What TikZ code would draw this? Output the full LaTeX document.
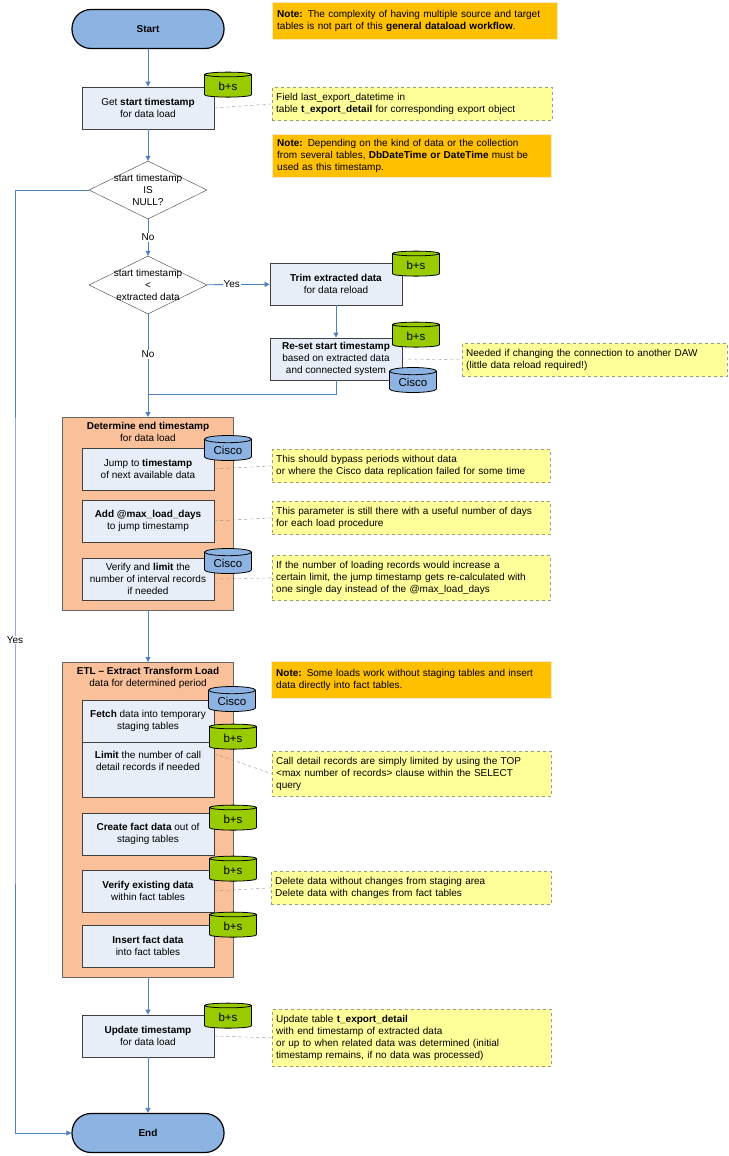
\documentclass[tikz,border=0pt]{standalone}
\usepackage{fontspec}
\setmainfont{Liberation Sans}
\usetikzlibrary{shapes.geometric,arrows.meta,positioning}
\definecolor{boxfill}{HTML}{E8EEF8}
\definecolor{termfill}{HTML}{8DB3E2}
\definecolor{grpfill}{HTML}{F9C09A}
\definecolor{notey}{HTML}{FFFF99}
\definecolor{noteo}{HTML}{FFC000}
\definecolor{bsgreen}{HTML}{99CC00}
\definecolor{ciscoblue}{HTML}{8DB3E2}
\definecolor{flow}{HTML}{4F81BD}
\tikzset{
  every node/.style={font=\fontsize{10}{12}\selectfont, align=center},
  procbox/.style={draw=black!75, thick, fill=boxfill, minimum width=132pt, minimum height=42pt, inner sep=1pt},
  term/.style={draw=black, very thick, fill=termfill, rounded corners=19pt, minimum width=152pt, minimum height=39pt, font=\fontsize{10}{12}\selectfont\bfseries},
  decide/.style={draw=black!75, fill=white, diamond, aspect=2.03, minimum width=118pt, minimum height=58pt, inner sep=0pt, label={center:#1}},
  group/.style={draw=black!60, fill=grpfill},
  note/.style={draw=black!40, dashed, fill=notey, align=left, anchor=north west, inner xsep=4pt, inner ysep=6pt, minimum width=#1, text width={#1-8pt}},
  onote/.style={draw=noteo!80!black!20, fill=noteo, align=left, anchor=north west, inner xsep=5pt, inner ysep=8pt, minimum width=#1, text width={#1-10pt}},
  db/.style={cylinder, shape border rotate=90, aspect=0.25, draw=black, thick, minimum width=47pt, minimum height=25pt, inner sep=0pt, font=\fontsize{11.5}{12}\selectfont},
  bs/.style={db, fill=bsgreen},
  cisco/.style={db, fill=ciscoblue},
  arr/.style={draw=flow, thick, -{Triangle[width=5pt,length=5pt]}},
  link/.style={draw=black!45, dashed, thin}
}
\begin{document}
\begin{tikzpicture}[x=1pt,y=-1pt]
\useasboundingbox (0,0) rectangle (728,1156);

% groups
\draw[group] (62,417) rectangle (233,610);
\draw[group] (62,662) rectangle (233,977);

% flow nodes
\node[term] (start) at (148,29) {Start};
\node[procbox] (getstart) at (148,108) {Get \textbf{start timestamp}\\for data load};
\node[decide={start timestamp\\IS\\NULL?}] (isnull) at (148,190) {};
\node[decide={start timestamp\\<\\extracted data}] (less) at (148,285) {};
\node[procbox] (trim) at (336,284) {\textbf{Trim extracted data}\\for data reload};
\node[procbox] (reset) at (336,359) {\textbf{Re-set start timestamp}\\based on extracted data\\and connected system};
\node at (148,432) {\textbf{Determine end timestamp}\\for data load};
\node[procbox] (jump) at (148,469) {Jump to \textbf{timestamp}\\of next available data};
\node[procbox] (addmax) at (148,521) {\textbf{Add @max\_load\_days}\\to jump timestamp};
\node[procbox] (verlim) at (148,579) {Verify and \textbf{limit} the\\number of interval records\\if needed};
\node at (148,678) {\textbf{ETL -- Extract Transform Load}\\data for determined period};
\node[procbox] (fetch) at (148,721) {\textbf{Fetch} data into temporary\\staging tables};
\node[procbox, minimum height=55pt, text depth=18pt] (limit) at (148,769.5) {\textbf{Limit} the number of call\\detail records if needed};
\node[procbox] (create) at (148,834) {\textbf{Create fact data} out of\\staging tables};
\node[procbox] (verex) at (148,891) {\textbf{Verify existing data}\\within fact tables};
\node[procbox] (insert) at (148,946) {\textbf{Insert fact data}\\into fact tables};
\node[procbox] (update) at (148,1036) {\textbf{Update timestamp}\\for data load};
\node[term] (end) at (148,1133) {End};

% databases
\node[bs] (db1) at (228,86) {b+s};
\node[bs] (db2) at (416,265) {b+s};
\node[bs] (db3) at (416,336) {b+s};
\node[cisco] (db4) at (413,382) {Cisco};
\node[cisco] (db5) at (228,450) {Cisco};
\node[cisco] (db6) at (228,563) {Cisco};
\node[cisco] (db7) at (232,701) {Cisco};
\node[bs] (db8) at (233,738) {b+s};
\node[bs] (db9) at (233,819) {b+s};
\node[bs] (db10) at (233,870) {b+s};
\node[bs] (db11) at (233,926) {b+s};
\node[bs] (db12) at (228,1017) {b+s};

% notes
\node[onote=285pt] (n1) at (272,2) {\textbf{Note:} The complexity of having multiple source and target\\tables is not part of this \textbf{general dataload workflow}.};
\node[note=280pt] (n2) at (272,87) {Field last\_export\_datetime in\\table \textbf{t\_export\_detail} for corresponding export object};
\node[onote=279pt, inner ysep=5pt] (n3) at (272,134) {\textbf{Note:} Depending on the kind of data or the collection\\from several tables, \textbf{DbDateTime or DateTime} must be\\used as this timestamp.};
\node[note=265pt] (n4) at (462,343) {Needed if changing the connection to another DAW\\(little data reload required!)};
\node[note=278pt] (n5) at (272,449) {This should bypass periods without data\\or where the Cisco data replication failed for some time};
\node[note=278pt] (n6) at (272,501) {This parameter is still there with a useful number of days\\for each load procedure};
\node[note=278pt] (n7) at (272,555) {If the number of loading records would increase a\\certain limit, the jump timestamp gets re-calculated with\\one single day instead of the @max\_load\_days};
\node[onote=280pt] (n8) at (271,661) {\textbf{Note:} Some loads work without staging tables and insert\\data directly into fact tables.};
\node[note=279pt] (n9) at (272,751) {Call detail records are simply limited by using the TOP\\<max number of records> clause within the SELECT\\query};
\node[note=280pt] (n10) at (271,871) {Delete data without changes from staging area\\Delete data with changes from fact tables};
\node[note=279pt] (n11) at (272,1009) {Update table \textbf{t\_export\_detail}\\with end timestamp of extracted data\\or up to when related data was determined (initial\\timestamp remains, if no data was processed)};

% flow
\draw[arr] (start) -- (getstart);
\draw[arr] (getstart) -- (isnull);
\draw[arr] (isnull) -- node[fill=white, inner sep=1pt] {No} (less);
\draw[arr] (less) -- node[fill=white, inner sep=1pt, pos=0.4] {Yes} (trim);
\draw[arr] (trim) -- (reset);
\draw[draw=flow, thick] (less.south) -- node[fill=white, inner sep=1pt] {No} (148,394);
\draw[draw=flow, thick] (reset.south) |- (148,394);
\draw[arr] (148,394) -- (148,417);
\draw[arr] (148,610) -- (148,662);
\draw[arr] (148,977) -- (update);
\draw[arr] (update) -- (end);
\draw[arr] (isnull.west) -| (15,640) node[fill=white, inner sep=1pt] {Yes} |- (end.west);

% links to notes
\draw[link] (getstart.east) -- (n2.west);
\draw[link] (reset.east) -- (n4.west);
\draw[link] (jump.east) -- (n5.west);
\draw[link] (addmax.east) -- (n6.west);
\draw[link] (verlim.east) -- (n7.west);
\draw[link] ([yshift=-12pt]limit.north east) -- (n9.west);
\draw[link] (verex.east) -- (n10.west);
\draw[link] (update.east) -- (n11.west);
\end{tikzpicture}
\end{document}
